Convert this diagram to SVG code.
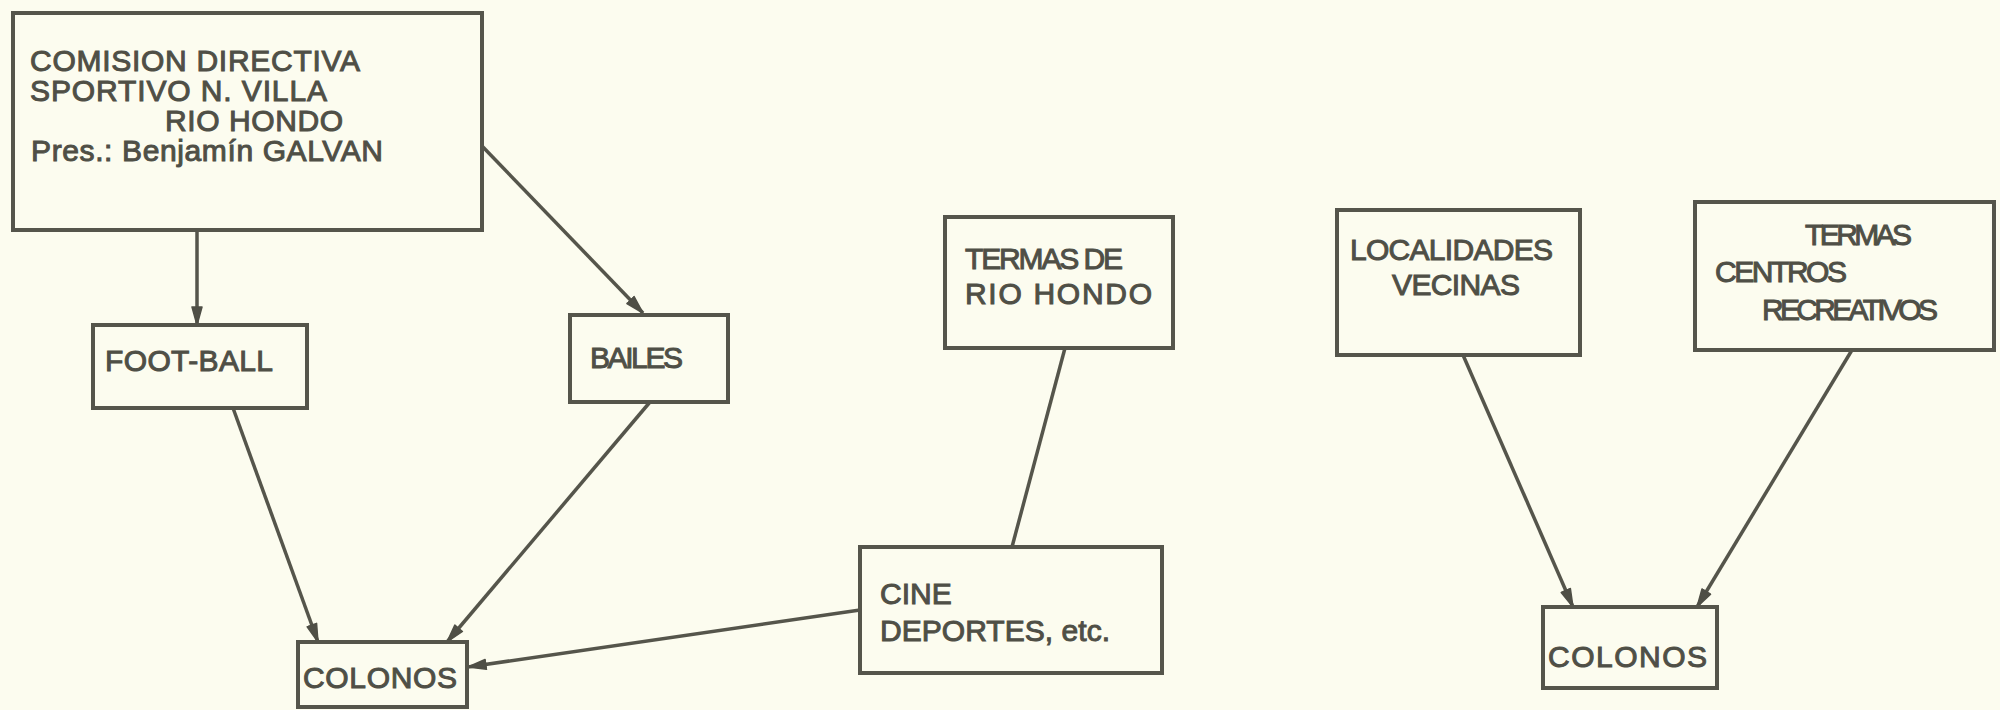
<svg xmlns="http://www.w3.org/2000/svg" width="2000" height="710" viewBox="0 0 2000 710">
<style>
.bg{fill:#fcfcef}
.box{fill:none;stroke:#55554b;stroke-width:4}
.t{font-family:"Liberation Sans",Arial,sans-serif;font-size:30px;fill:#4f4f46;stroke:#4f4f46;stroke-width:1}
.c{fill:none;stroke:#55554b;stroke-width:3.5}
</style>
<defs>
<marker id="ah" markerUnits="userSpaceOnUse" markerWidth="22" markerHeight="14" refX="19" refY="7" orient="auto">
<path d="M1,2 L19,7 L1,12 Z" fill="#4f4f46" stroke="#4f4f46" stroke-width="1.5" stroke-linejoin="round"/>
</marker>
</defs>
<rect class="bg" x="0" y="0" width="2000" height="710"/>
<g id="connectors">
<line class="c" x1="197" y1="231" x2="197" y2="325" marker-end="url(#ah)"/>
<line class="c" x1="482" y1="146" x2="643" y2="313" marker-end="url(#ah)"/>
<line class="c" x1="233" y1="408" x2="318" y2="642" marker-end="url(#ah)"/>
<line class="c" x1="650" y1="402" x2="447" y2="642" marker-end="url(#ah)"/>
<line class="c" x1="860" y1="610" x2="468" y2="667" marker-end="url(#ah)"/>
<line class="c" x1="1065" y1="348" x2="1012" y2="547"/>
<line class="c" x1="1463" y1="355" x2="1573" y2="607" marker-end="url(#ah)"/>
<line class="c" x1="1852" y1="350" x2="1697" y2="607" marker-end="url(#ah)"/>
</g>
<g id="comision">
<rect class="box" x="13" y="13" width="469" height="217"/>
<text class="t" x="30" y="71" textLength="330">COMISION DIRECTIVA</text>
<text class="t" x="30" y="101" textLength="297">SPORTIVO N. VILLA</text>
<text class="t" x="165" y="131" textLength="178">RIO HONDO</text>
<text class="t" x="31" y="161" textLength="352">Pres.: Benjamín GALVAN</text>
</g>
<g id="football">
<rect class="box" x="93" y="325" width="214" height="83"/>
<text class="t" x="105" y="371" textLength="168">FOOT-BALL</text>
</g>
<g id="bailes">
<rect class="box" x="570" y="315" width="158" height="87"/>
<text class="t" x="590" y="368" textLength="93">BAILES</text>
</g>
<g id="colonos1">
<rect class="box" x="298" y="642" width="169" height="65"/>
<text class="t" x="303" y="688" textLength="154">COLONOS</text>
</g>
<g id="termas-rio-hondo">
<rect class="box" x="945" y="217" width="228" height="131"/>
<text class="t" x="965" y="269" textLength="158">TERMAS DE</text>
<text class="t" x="965" y="304" textLength="187">RIO HONDO</text>
</g>
<g id="cine">
<rect class="box" x="860" y="547" width="302" height="126"/>
<text class="t" x="880" y="604">CINE</text>
<text class="t" x="880" y="641" textLength="230">DEPORTES, etc.</text>
</g>
<g id="localidades">
<rect class="box" x="1337" y="210" width="243" height="145"/>
<text class="t" x="1350" y="260" textLength="203">LOCALIDADES</text>
<text class="t" x="1392" y="295" textLength="128">VECINAS</text>
</g>
<g id="termas-centros">
<rect class="box" x="1695" y="202" width="299" height="148"/>
<text class="t" x="1805" y="245" textLength="107">TERMAS</text>
<text class="t" x="1715" y="282" textLength="132">CENTROS</text>
<text class="t" x="1762" y="320" textLength="176">RECREATIVOS</text>
</g>
<g id="colonos2">
<rect class="box" x="1543" y="607" width="174" height="81"/>
<text class="t" x="1548" y="667" textLength="159">COLONOS</text>
</g>
</svg>
